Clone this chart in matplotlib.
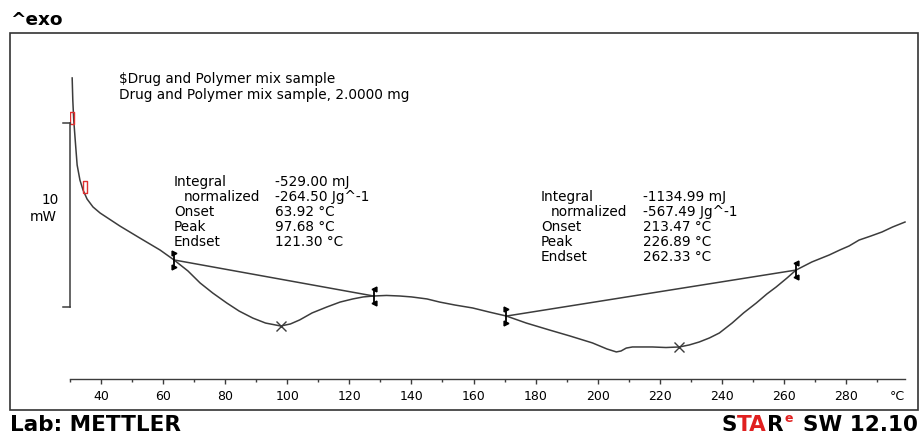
import matplotlib.pyplot as plt
from matplotlib.patches import Rectangle

# DSC curve: temperature (°C) and heat flow (mW, zero is arbitrary)
temp = [30.7, 30.9, 31.2, 31.8, 32.3, 33.2, 34.2, 35.5, 37.4, 39.7, 46.1, 52.5,
        59.0, 63.5, 68.0, 71.9, 76.0, 80.5, 84.5, 88.9, 93.0, 97.9, 101.0, 104.0,
        108.0, 112.7, 117.0, 121.1, 124.5, 127.8, 132.0, 136.2, 140.0, 145.0,
        149.1, 154.0, 159.7, 165.0, 170.6, 177.0, 184.5, 191.0, 198.3, 203.0,
        206.0, 207.5, 209.2, 211.2, 214.0, 217.6, 222.0, 226.3, 229.5, 232.7,
        236.0, 239.2, 243.3, 247.0, 251.1, 254.5, 257.5, 261.0, 263.9, 269.0,
        274.6, 278.0, 281.0, 284.2, 288.0, 291.6, 295.0, 299.0]
heat_flow = [9.35, 8.15, 7.07, 5.71, 4.62, 3.80, 3.26, 2.77, 2.34, 2.01, 1.30, 0.65,
             0.00, -0.54, -1.14, -1.79, -2.34, -2.88, -3.32, -3.70, -3.97, -4.13, -4.02, -3.80,
             -3.42, -3.10, -2.83, -2.66, -2.55, -2.50, -2.47, -2.50, -2.55, -2.66,
             -2.83, -2.99, -3.15, -3.37, -3.59, -3.97, -4.35, -4.67, -5.05, -5.38,
             -5.54, -5.49, -5.33, -5.27, -5.27, -5.27, -5.30, -5.27, -5.16, -5.00,
             -4.78, -4.51, -3.97, -3.42, -2.88, -2.39, -2.01, -1.52, -1.09, -0.65,
             -0.27, 0.00, 0.22, 0.54, 0.76, 0.98, 1.25, 1.52]

# integration limits (start, end, start, end) and peak points
limit_temp = [63.5, 127.8, 170.6, 263.9]
limit_flow = [-0.54, -2.50, -3.59, -1.09]
peak_temp = [97.9, 226.3]
peak_flow = [-4.13, -5.27]
red_temp = [30.5, 34.7]
red_flow = [7.17, 3.42]

major_ticks = list(range(40, 281, 20))
minor_ticks = list(range(30, 300, 20))

sample_lines = ['$Drug and Polymer mix sample', 'Drug and Polymer mix sample, 2.0000 mg']
result_labels = ['Integral', 'normalized', 'Onset', 'Peak', 'Endset']
peak1_values = ['-529.00 mJ', '-264.50 Jg^-1', '63.92 °C', '97.68 °C', '121.30 °C']
peak2_values = ['-1134.99 mJ', '-567.49 Jg^-1', '213.47 °C', '226.89 °C', '262.33 °C']

W, H = 922, 437
LINE = '#3c3c3c'


def fx(x):
    return x / W


def fy(y):
    return 1 - y / H


plt.rcParams['font.family'] = ['DejaVu Sans']
fig = plt.figure(figsize=(W / 100, H / 100), dpi=100)
ax = fig.add_axes([fx(70), fy(379), (905 - 70) / W, (379 - 33) / H])
ax.set_xlim(30, 299)
ax.set_ylim((250 - 379) / 18.4, (250 - 33) / 18.4)
for s in ['left', 'right', 'top']:
    ax.spines[s].set_visible(False)
ax.spines['bottom'].set_color(LINE)
ax.spines['bottom'].set_linewidth(1.0)
ax.set_yticks([])
ax.set_xticks(major_ticks)
ax.set_xticks(minor_ticks, minor=True)
ax.tick_params(axis='x', which='major', length=3.6, width=1, color=LINE,
               labelsize=9, pad=4)
ax.tick_params(axis='x', which='minor', length=2.2, width=1, color=LINE)
ax.patch.set_alpha(0)

# curve and integration baselines
ax.plot(temp, heat_flow, color=LINE, lw=1.1, clip_on=False)
ax.plot(limit_temp[:2], limit_flow[:2], color=LINE, lw=1.1)
ax.plot(limit_temp[2:], limit_flow[2:], color=LINE, lw=1.1)
ax.plot(peak_temp, peak_flow, ls='none', marker='x', ms=7, mew=1, color=LINE)

# limit markers: bar with small triangles
ax.plot(limit_temp, limit_flow, ls='none', marker='|', ms=12, mew=1.3, color='black')
for i, (t, f) in enumerate(zip(limit_temp, limit_flow)):
    m = '>' if i % 2 == 0 else '<'
    ax.plot([t, t], [f + 0.36, f - 0.36], ls='none', marker=m, ms=3.5, color='black')

rect = [(-0.4, -1), (0.4, -1), (0.4, 1), (-0.4, 1), (-0.4, -1)]
ax.plot(red_temp, red_flow, ls='none', marker=rect, ms=8, mfc='none', mec='#e03030', mew=1)

# 10 mW scale bar
ax.plot([30, 30], [6.90, -3.10], color=LINE, lw=1.1, clip_on=False)
ax.plot([27.7, 30], [6.90, 6.90], color=LINE, lw=1.1, clip_on=False)
ax.plot([27.7, 30], [-3.10, -3.10], color=LINE, lw=1.1, clip_on=False)
fig.text(fx(50), fy(200), '10', ha='center', va='center', fontsize=9.8)
fig.text(fx(43), fy(217), 'mW', ha='center', va='center', fontsize=9.8)

# texts
for i, s in enumerate(sample_lines):
    fig.text(fx(119), fy(79 + 16 * i), s, ha='left', va='center', fontsize=9.8, parse_math=False)

for i in range(5):
    ind = 10 if i == 1 else 0
    fig.text(fx(174 + ind), fy(182 + 15 * i), result_labels[i], va='center', fontsize=9.8)
    fig.text(fx(275), fy(182 + 15 * i), peak1_values[i], va='center', fontsize=9.8)
    fig.text(fx(541 + ind), fy(197 + 15 * i), result_labels[i], va='center', fontsize=9.8)
    fig.text(fx(643), fy(197 + 15 * i), peak2_values[i], va='center', fontsize=9.8)

fig.text(fx(897), fy(397), '°C', ha='center', va='center', fontsize=9)

fig.add_artist(Rectangle((fx(10), fy(410)), 908 / W, 377 / H, transform=fig.transFigure,
                         fill=False, lw=1.2, ec='#333333'))

fig.text(fx(10), fy(25), '^exo', ha='left', va='baseline', fontsize=13.3, fontweight='bold')
fig.text(fx(10), fy(431), 'Lab: METTLER', ha='left', va='baseline', fontsize=15.5, fontweight='bold')

bold = dict(fontsize=15.5, fontweight='bold', annotation_clip=False)
t5 = fig.text(fx(918), fy(431), 'SW 12.10', ha='right', va='baseline', fontsize=15.5, fontweight='bold')
t4 = ax.annotate('e', xy=(0, 0), xycoords=(t5, t5), xytext=(-7, 7), textcoords='offset points',
                 ha='right', va='bottom', color='#e02020', fontsize=9, fontweight='bold',
                 annotation_clip=False)
t3 = ax.annotate('R', xy=(0, 0), xycoords=(t4, t5), xytext=(-1, 0), textcoords='offset points',
                 ha='right', va='bottom', color='black', **bold)
t2 = ax.annotate('TA', xy=(0, 0), xycoords=(t3, t5), ha='right', va='bottom', color='#e02020', **bold)
t1 = ax.annotate('S', xy=(0, 0), xycoords=(t2, t5), ha='right', va='bottom', color='black', **bold)

fig.savefig('out.png', dpi=100)
